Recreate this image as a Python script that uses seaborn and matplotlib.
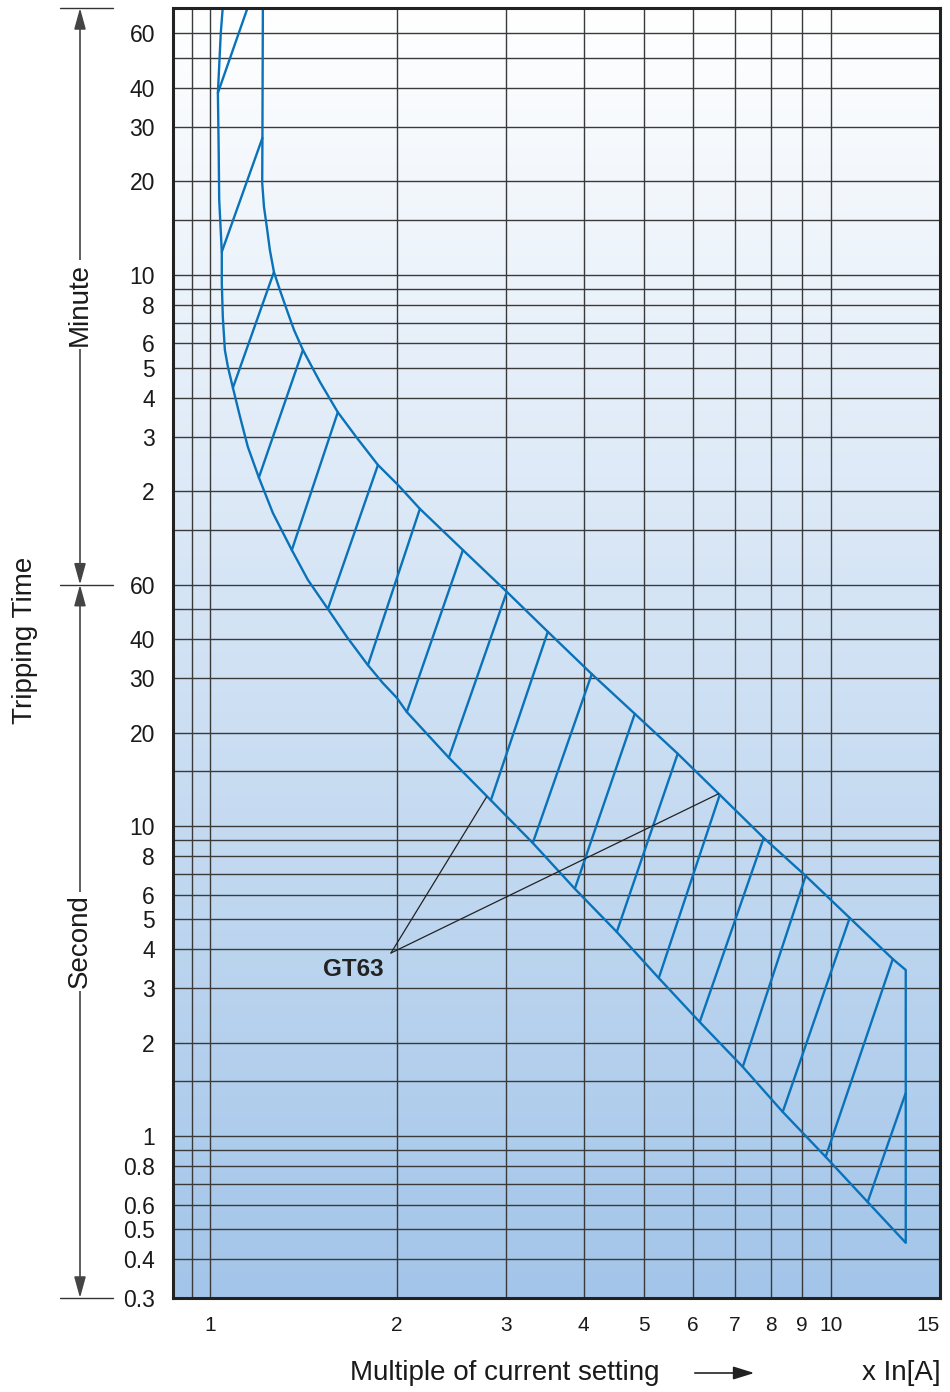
import numpy as np
import pandas as pd
import seaborn as sns
import matplotlib
matplotlib.use('Agg')
import matplotlib.pyplot as plt
from matplotlib.colors import LinearSegmentedColormap
from matplotlib.lines import Line2D
from matplotlib.patches import ArrowStyle, FancyArrowPatch
from matplotlib.ticker import NullLocator
from matplotlib.transforms import blended_transform_factory

# lower (left) boundary of the tripping band, top to bottom
lower_x = [1.049, 1.041, 1.030, 1.033, 1.035, 1.045, 1.045, 1.049, 1.057, 1.069,
           1.089, 1.118, 1.151, 1.199, 1.263, 1.355, 1.438, 1.549, 1.662, 1.797,
           1.899, 2.000, 2.076, 2.426, 2.835, 3.312, 3.871, 4.523, 5.285, 6.152,
           7.217, 8.370, 9.815, 11.47, 13.21]
lower_t = [4400, 3600, 2315, 1517, 1046, 711, 564, 438, 343, 302.6,
           259, 209, 167, 133, 102.2, 77.6, 62.2, 50.1, 40.7, 33.0,
           28.9, 25.9, 23.3, 16.6, 12.1, 8.81, 6.27, 4.55, 3.23, 2.33,
           1.67, 1.195, 0.856, 0.612, 0.452]

# upper (right) boundary, top to bottom
upper_x = [1.217, 1.215, 1.214, 1.222, 1.235, 1.249, 1.268, 1.296, 1.330, 1.366,
           1.412, 1.504, 1.607, 1.725, 1.865, 2.008, 2.179, 2.556, 3.008, 3.502,
           4.122, 4.835, 5.670, 6.627, 7.800, 9.114, 10.73, 12.59, 13.21]
upper_t = [4400, 1657, 1186, 993, 855, 721, 612, 536, 462, 398,
           343, 270.5, 216, 178.5, 146, 126, 105.4, 77.6, 56.9, 42.3,
           30.9, 23.0, 17.1, 12.6, 9.15, 6.90, 5.05, 3.72, 3.43]

# hatch strokes: from lower boundary to upper boundary
hatch_lo_x = [1.030, 1.045, 1.089, 1.199, 1.355, 1.549, 1.797, 2.076, 2.426, 2.835,
              3.312, 3.871, 4.523, 5.285, 6.152, 7.217, 8.370, 9.815, 11.47]
hatch_lo_t = [2315, 711, 259, 133, 77.6, 50.1, 33.0, 23.3, 16.6, 12.1,
              8.81, 6.27, 4.55, 3.23, 2.33, 1.67, 1.195, 0.856, 0.612]
hatch_hi_x = [1.156, 1.215, 1.268, 1.412, 1.607, 1.865, 2.179, 2.556, 3.008, 3.502,
              4.122, 4.835, 5.670, 6.627, 7.800, 9.114, 10.73, 12.59, 13.21]
hatch_hi_t = [4490, 1657, 612, 343, 216, 146, 105.4, 77.6, 56.9, 42.3,
              30.9, 23.0, 17.1, 12.6, 9.15, 6.90, 5.05, 3.72, 1.376]

# axis ticks (time in seconds, minute labels for the upper part)
x_ticks = [1, 2, 3, 4, 5, 6, 7, 8, 9, 10, 15]
x_tick_labels = ['1', '2', '3', '4', '5', '6', '7', '8', '9', '10', '15']
sec_ticks = [0.3, 0.4, 0.5, 0.6, 0.8, 1, 2, 3, 4, 5, 6, 8, 10, 20, 30, 40, 60]
sec_labels = ['0.3', '0.4', '0.5', '0.6', '0.8', '1', '2', '3', '4', '5', '6', '8',
              '10', '20', '30', '40', '60']
min_ticks = [2, 3, 4, 5, 6, 8, 10, 20, 30, 40, 60]
min_labels = ['2', '3', '4', '5', '6', '8', '10', '20', '30', '40', '60']

x_grid = [0.935, 1, 2, 3, 4, 5, 6, 7, 8, 9, 10]
sec_grid = [0.4, 0.5, 0.6, 0.7, 0.8, 0.9, 1, 1.5, 2, 3, 4, 5, 6, 7, 8, 9,
            10, 15, 20, 30, 40, 50, 60]
min_grid = [1.5, 2, 3, 4, 5, 6, 7, 8, 9, 10, 15, 20, 30, 40, 50, 60]

label_x = 1.70
label_t = 3.43
pointer_from = (1.957, 3.89)
pointer_to_x = [2.79, 6.60]
pointer_to_t = [12.4, 12.7]

t_min, t_max = 0.3, 4350
blue = '#0a72b8'
grid_c = '#3a3a3a'

sns.set_theme(style='white')
plt.rcParams['font.family'] = ['Liberation Sans', 'DejaVu Sans']

fig = plt.figure(figsize=(9.5, 13.92), dpi=100)
pos = [173 / 950, 94 / 1392, 767 / 950, 1290 / 1392]

# gradient background
bg = fig.add_axes(pos, zorder=0)
grad = np.linspace(0, 1, 256).reshape(-1, 1)
bg.imshow(grad, aspect='auto', extent=[0, 1, 0, 1],
          cmap=LinearSegmentedColormap.from_list('bg', ['#ffffff', '#a3c5e9']))
bg.axis('off')

ax = fig.add_axes(pos, zorder=1)
ax.set_facecolor('none')
ax.set_xscale('log')
ax.set_yscale('log')

for v in x_grid:
    ax.axvline(v, color=grid_c, lw=1.0, zorder=1)
for h in sec_grid:
    ax.axhline(h, color=grid_c, lw=1.0, zorder=1)
for h in min_grid:
    ax.axhline(h * 60, color=grid_c, lw=1.0, zorder=1)

# band outline: lower curve down, vertical cut-off, upper curve back up
outline = pd.DataFrame({
    'x': lower_x + upper_x[::-1],
    't': lower_t + upper_t[::-1],
})
sns.lineplot(data=outline, x='x', y='t', sort=False, estimator=None,
             color=blue, lw=1.7, ax=ax, zorder=3)

hatch = pd.DataFrame({
    'id': list(range(len(hatch_lo_x))) * 2,
    'x': hatch_lo_x + hatch_hi_x,
    't': hatch_lo_t + hatch_hi_t,
})
sns.lineplot(data=hatch, x='x', y='t', units='id', estimator=None,
             color=blue, lw=1.7, ax=ax, zorder=3)

# GT63 pointer
for px, pt in zip(pointer_to_x, pointer_to_t):
    ax.annotate('', xy=(px, pt), xytext=pointer_from,
                arrowprops=dict(arrowstyle='-', color='#222222', lw=0.9,
                                shrinkA=0, shrinkB=0), zorder=4)
ax.text(label_x, label_t, 'GT63', fontsize=17.5, fontweight='bold',
        color='#222222', ha='center', va='center', zorder=4)

ax.set_xlim(0.872, 15)
ax.set_ylim(t_min, t_max)

ax.set_xticks(x_ticks)
ax.set_xticklabels(x_tick_labels, fontsize=15)
ax.get_xticklabels()[-1].set_ha('right')
ax.set_yticks(sec_ticks + [m * 60 for m in min_ticks])
ax.set_yticklabels(sec_labels + min_labels, fontsize=16.5)
ax.xaxis.set_minor_locator(NullLocator())
ax.yaxis.set_minor_locator(NullLocator())
ax.tick_params(axis='x', length=0, pad=13, colors='#1a1a1a')
ax.tick_params(axis='y', length=0, pad=13, colors='#1a1a1a')
ax.set_xlabel('')
ax.set_ylabel('')
for s in ax.spines.values():
    s.set_color('#222222')
    s.set_linewidth(2.2)
    s.set_zorder(5)

# left side: Minute / Second ranges
trans = blended_transform_factory(fig.transFigure, ax.transData)
xa = 80 / 950
head = ArrowStyle('<|-|>', head_length=0.8, head_width=0.22)
for yv in [t_max, 60, t_min]:
    fig.add_artist(Line2D([60 / 950, 113 / 950], [yv, yv], transform=trans,
                          color='#333333', lw=1.0))
for y0, y1 in [(60, t_max), (60, t_min)]:
    ax.annotate('', xy=(xa, y1), xytext=(xa, y0), xycoords=trans, textcoords=trans,
                arrowprops=dict(arrowstyle=head, color='#444444', lw=1.2,
                                shrinkA=0, shrinkB=0, mutation_scale=16),
                annotation_clip=False)
ax.text(xa, 480, 'Minute', transform=trans, rotation=90, fontsize=20,
        ha='center', va='center', color='#1a1a1a', clip_on=False,
        bbox=dict(fc='white', ec='none', pad=2))
ax.text(xa, 4.24, 'Second', transform=trans, rotation=90, fontsize=20,
        ha='center', va='center', color='#1a1a1a', clip_on=False,
        bbox=dict(fc='white', ec='none', pad=2))
fig.text(25 / 950, 1 - 640 / 1392, 'Tripping Time', rotation=90, fontsize=20,
         ha='center', va='center', color='#1a1a1a')

# bottom axis caption
yb = 1 - 1373 / 1392
fig.text(350 / 950, yb, 'Multiple of current setting', fontsize=20,
         ha='left', va='center', color='#1a1a1a')
fig.add_artist(FancyArrowPatch(
    (692 / 950, yb), (757 / 950, yb), transform=fig.transFigure,
    arrowstyle=ArrowStyle('-|>', head_length=0.8, head_width=0.25),
    mutation_scale=16, color='#222222', lw=1.2))
fig.text(941 / 950, yb, 'x In[A]', fontsize=20, ha='right', va='center',
         color='#1a1a1a')

fig.savefig('out.png', dpi=100)
